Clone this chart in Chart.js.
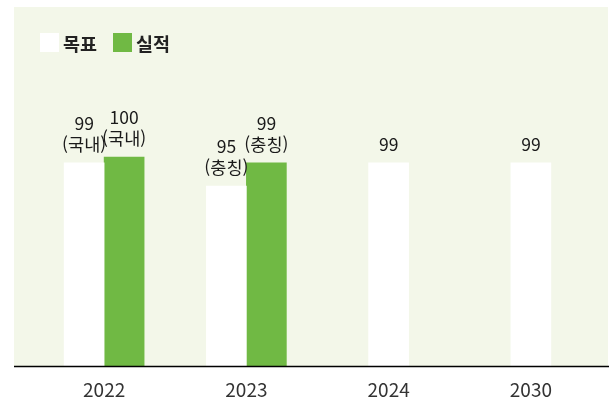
<!DOCTYPE html>
<html lang="ko">
<head>
<meta charset="utf-8">
<title>목표 / 실적</title>
<script src="https://cdn.jsdelivr.net/npm/chart.js@4"></script>
<style>
    body { margin: 0; background: #fff; font-family: "Noto Sans CJK KR", "Noto Sans", sans-serif; }
    .wrap { position: relative; width: 609px; height: 403px; }
    #legend { position: absolute; left: 40px; top: 33px; height: 19px; display: flex; align-items: center; }
    .legend-item { display: flex; align-items: center; margin-right: 16px; font-size: 18.5px; font-weight: 700; color: #222; }
    .color-box { width: 19px; height: 19px; margin-right: 4px; }
</style>
</head>
<body>
<div class="wrap">
    <canvas id="goalChart" width="609" height="403"></canvas>
    <div id="legend"></div>
</div>
<script>
const YEARS = ['2022', '2023', '2024', '2030'];
const TARGET = [99, 95, 99, 99];
const ACTUAL = [100, 99, null, null];
const TARGET_NOTES = ['국내', '충칭', '', ''];
const ACTUAL_NOTES = ['국내', '충칭', '', ''];

const COLORS = {
    target: '#ffffff',
    actual: '#70b944',
    panel: '#f3f7e9',
    text: '#1a1a1a'
};

const FONT = '"Noto Sans CJK KR", "Noto Sans", sans-serif';

// light panel behind the bars + baseline
const panelPlugin = {
    id: 'panel',
    beforeDraw(chart) {
        const { ctx, chartArea } = chart;
        ctx.save();
        ctx.fillStyle = COLORS.panel;
        ctx.fillRect(chartArea.left - 19, 7, chartArea.right - chartArea.left + 25, chartArea.bottom - 7);
        ctx.restore();
    },
    afterDatasetsDraw(chart) {
        const { ctx, chartArea } = chart;
        ctx.save();
        ctx.strokeStyle = '#000';
        ctx.lineWidth = 1.5;
        ctx.beginPath();
        ctx.moveTo(chartArea.left - 19, chartArea.bottom + 0.5);
        ctx.lineTo(chart.width, chartArea.bottom + 0.5);
        ctx.stroke();
        ctx.restore();
    }
};

// value (+ site) written above every bar
const valueLabels = {
    id: 'valueLabels',
    afterDatasetsDraw(chart) {
        const { ctx } = chart;
        ctx.save();
        ctx.font = '17.5px ' + FONT;
        ctx.fillStyle = COLORS.text;
        ctx.textAlign = 'center';
        ctx.textBaseline = 'middle';
        chart.data.datasets.forEach((ds, di) => {
            const meta = chart.getDatasetMeta(di);
            meta.data.forEach((bar, i) => {
                const v = ds.data[i];
                if (v === null || v === undefined) return;
                const lines = [String(v)];
                if (ds.notes[i]) lines.push('(' + ds.notes[i] + ')');
                let y = bar.y - 19;
                for (let k = lines.length - 1; k >= 0; k--) {
                    ctx.fillText(lines[k], bar.x, y);
                    y -= 21;
                }
            });
        });
        ctx.restore();
    }
};

const datasets = [
    { label: '목표', data: TARGET, notes: TARGET_NOTES, backgroundColor: COLORS.target },
    { label: '실적', data: ACTUAL, notes: ACTUAL_NOTES, backgroundColor: COLORS.actual }
];

const chart = new Chart(document.getElementById('goalChart'), {
    type: 'bar',
    data: { labels: YEARS, datasets: datasets },
    options: {
        responsive: false,
        devicePixelRatio: 1,
        animation: false,
        layout: { padding: { left: 33, right: 7, top: 41, bottom: 0 } },
        datasets: { bar: { barThickness: 40, skipNull: true, borderWidth: 0 } },
        scales: {
            x: {
                grid: { display: false },
                border: { display: false },
                ticks: { color: '#333', padding: 4, maxRotation: 0, font: { family: FONT, size: 19 } },
                afterFit(scale) { scale.height = 37; }
            },
            y: { display: false, min: 64, max: 120 }
        },
        plugins: {
            legend: { display: false },
            tooltip: { enabled: false }
        }
    },
    plugins: [panelPlugin, valueLabels]
});

// legend
const legendBox = document.getElementById('legend');
datasets.forEach(ds => {
    const item = document.createElement('div');
    item.className = 'legend-item';
    item.innerHTML = `<span class="color-box" style="background-color: ${ds.backgroundColor}"></span>${ds.label}`;
    legendBox.appendChild(item);
});
</script>
</body>
</html>
